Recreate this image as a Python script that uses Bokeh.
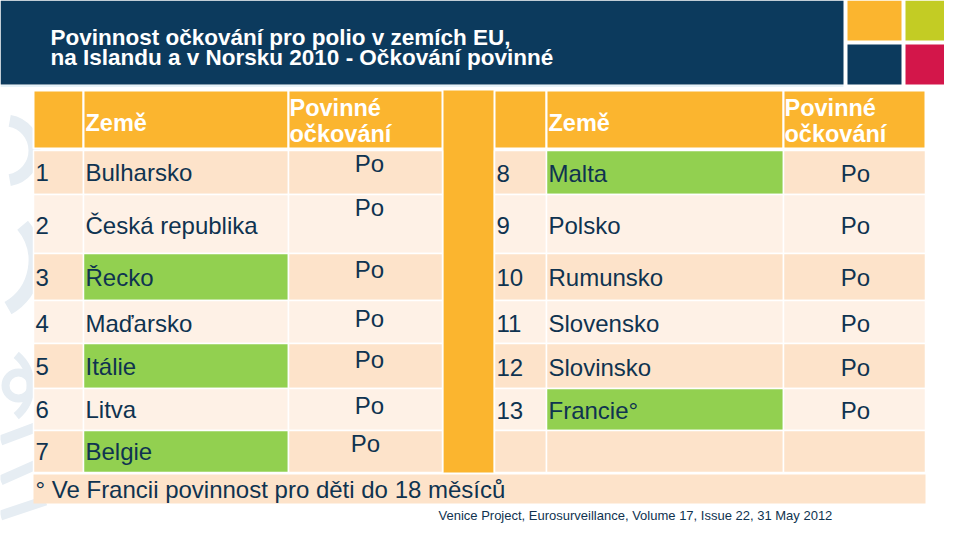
from bokeh.plotting import figure
from bokeh.models import Range1d
from bokeh.core.properties import value
from bokeh.embed import file_html
from bokeh.resources import INLINE
import math

# ---------------- data ----------------
title_lines = ["Povinnost očkování pro polio v zemích EU,",
               "na Islandu a v Norsku  2010 - Očkování povinné"]
header_country = "Země"
header_vacc = ["Povinné", "očkování"]
left_nums = ["1", "2", "3", "4", "5", "6", "7"]
left_countries = ["Bulharsko", "Česká republika", "Řecko", "Maďarsko", "Itálie", "Litva", "Belgie"]
left_vacc = ["Po", "Po", "Po", "Po", "Po", "Po", "Po"]
right_nums = ["8", "9", "10", "11", "12", "13", ""]
right_countries = ["Malta", "Polsko", "Rumunsko", "Slovensko", "Slovinsko", "Francie°", ""]
right_vacc = ["Po", "Po", "Po", "Po", "Po", "Po", ""]
highlighted = ["Řecko", "Itálie", "Belgie", "Malta", "Francie°"]
footnote = "° Ve Francii povinnost pro děti do 18 měsíců"
source_note = "Venice Project, Eurosurveillance, Volume 17, Issue 22, 31 May 2012"

# ---------------- layout (screen pixels) ----------------
NAVY = "#0c3a5d"
ORANGE = "#fbb52f"
LIME = "#c3cc24"
CRIMSON = "#d3164a"
GREEN = "#92d050"
PEACH_D = "#fde3ca"
PEACH_L = "#fef1e6"
TXT = "#0f3350"
FONT = value("Liberation Sans")
BODY = "24px"
HEAD = "23.5px"

row_edges = [150, 194, 253, 300, 343, 388, 430, 472]
left_cols = [33, 83, 288, 442]
right_cols = [494, 546, 783, 925]
header_top, header_bot = 90, 148
text_y_left = [172, 225, 277, 323, 366, 409, 451]
text_y_right = [173, 225, 277, 323, 367, 410, 452]
po_left_y = [163, 207, 269, 318, 359, 405, 443]
po_left_x = [369, 369, 369, 369, 369, 369, 365]

p = figure(width=944, height=524, output_backend="svg", toolbar_location=None,
           x_range=Range1d(0, 944), y_range=Range1d(524, 0),
           min_border=0, min_border_left=0, min_border_right=0,
           min_border_top=0, min_border_bottom=0)
p.axis.visible = False
p.grid.visible = False
p.outline_line_color = None
p.background_fill_color = "white"
p.border_fill_color = "white"

# decorative faint swirl on the left
deco = "#e6edf3"
p.arc(x=[4], y=[150], radius=30, start_angle=math.radians(-80), end_angle=math.radians(80),
      line_color=deco, line_width=12, direction="anticlock")
p.arc(x=[-20], y=[260], radius=55, start_angle=math.radians(-60), end_angle=math.radians(40),
      line_color=deco, line_width=14)
p.circle(x=[18], y=[385], radius=13, fill_color=None, line_color=deco, line_width=8)
p.arc(x=[-10], y=[385], radius=40, start_angle=math.radians(-50), end_angle=math.radians(50),
      line_color=deco, line_width=8)
p.segment(x0=[0, 0, 0], y0=[440, 480, 515], x1=[40, 45, 45], y1=[425, 460, 500],
          line_color=deco, line_width=10)

# title bar
p.quad(left=[0], right=[843], top=[0], bottom=[84], fill_color=NAVY, line_color=None)
p.quad(left=[847, 905, 847, 905], right=[901, 960, 901, 960],
       top=[0, 0, 44, 44], bottom=[40, 40, 84, 84],
       fill_color=[ORANGE, LIME, NAVY, CRIMSON], line_color=None)
p.segment(x0=[0], y0=[85.5], x1=[843], y1=[85.5], line_color="#cfe6f2", line_width=1)
p.text(x=[50, 50], y=[37, 56.5], text=title_lines, text_color="white",
       text_font=FONT, text_font_style="bold", text_font_size="22.5px",
       text_baseline="middle")

# headers
for cols in (left_cols, right_cols):
    p.quad(left=cols[:-1], right=cols[1:], top=[header_top] * 3, bottom=[header_bot] * 3,
           fill_color=ORANGE, line_color="white", line_width=2)
# central orange block
p.quad(left=[443], right=[493], top=[header_top], bottom=[472], fill_color=ORANGE, line_color=None)

def draw_table(cols, nums, countries, ty):
    n = len(countries)
    lefts, rights, tops, bots, fills = [], [], [], [], []
    for i in range(n):
        base = PEACH_D if i % 2 == 0 else PEACH_L
        for c in range(3):
            lefts.append(cols[c]); rights.append(cols[c + 1])
            tops.append(row_edges[i]); bots.append(row_edges[i + 1])
            if c == 1 and countries[i] in highlighted:
                fills.append(GREEN)
            else:
                fills.append(base)
    p.quad(left=lefts, right=rights, top=tops, bottom=bots, fill_color=fills,
           line_color="white", line_width=1.5)
    p.text(x=[cols[0] + 2] * n, y=ty, text=nums, text_color=TXT, text_font=FONT,
           text_font_size=BODY, text_baseline="middle")
    p.text(x=[cols[1] + 2] * n, y=ty, text=countries, text_color=TXT, text_font=FONT,
           text_font_size=BODY, text_baseline="middle")
    # header texts
    p.text(x=[cols[1] + 2], y=[122], text=[header_country], text_color="white", text_font=FONT,
           text_font_style="bold", text_font_size=HEAD, text_baseline="middle")
    p.text(x=[cols[2] + 1] * 2, y=[107, 133], text=header_vacc, text_color="white", text_font=FONT,
           text_font_style="bold", text_font_size=HEAD, text_baseline="middle")

draw_table(left_cols, left_nums, left_countries, text_y_left)
draw_table(right_cols, right_nums, right_countries, text_y_right)

p.text(x=po_left_x, y=po_left_y, text=left_vacc, text_color=TXT, text_font=FONT,
       text_font_size=BODY, text_baseline="middle", text_align="center")
p.text(x=[855] * 7, y=text_y_right, text=right_vacc, text_color=TXT, text_font=FONT,
       text_font_size=BODY, text_baseline="middle", text_align="center")

# footnote row
p.quad(left=[33], right=[925], top=[474], bottom=[503], fill_color=PEACH_D, line_color=None)
p.text(x=[35], y=[489], text=[footnote], text_color=TXT, text_font=FONT,
       text_font_size=BODY, text_baseline="middle")

p.text(x=[438], y=[515], text=[source_note], text_color=TXT, text_font=FONT,
       text_font_size="13px", text_baseline="middle")

open("out.html", "w").write(file_html(p, INLINE))
